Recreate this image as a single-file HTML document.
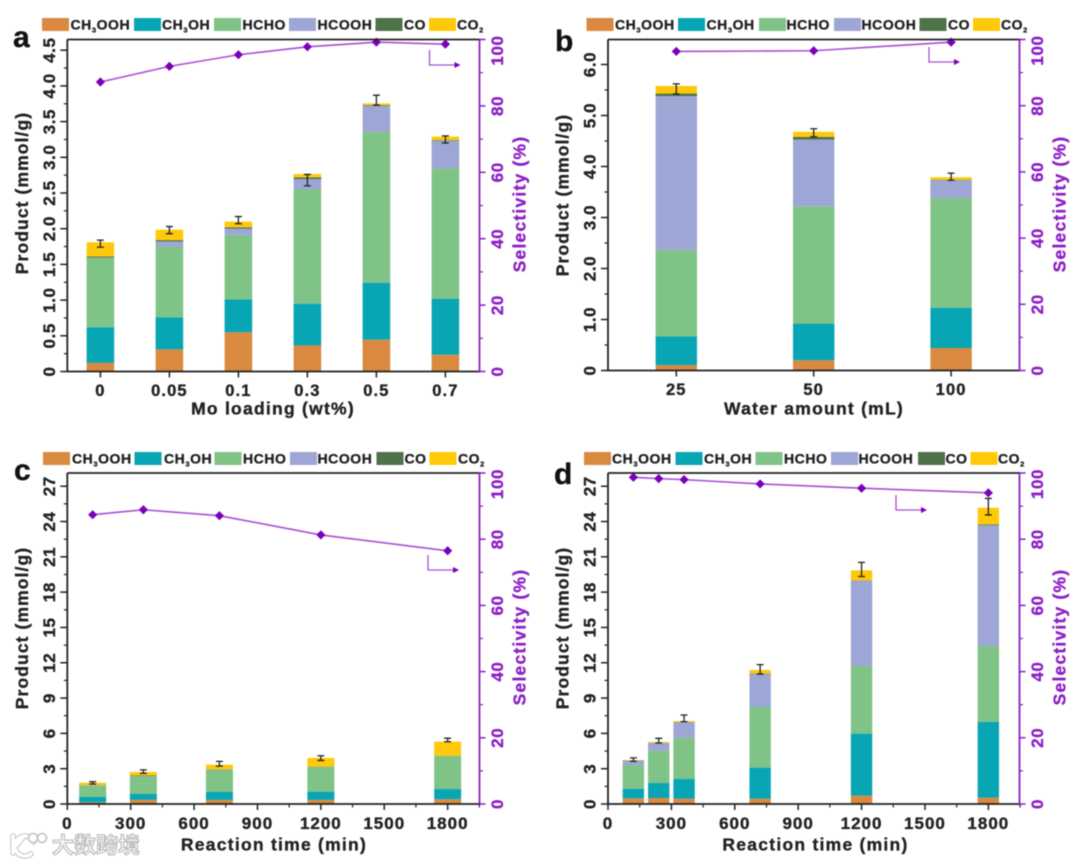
<!DOCTYPE html>
<html lang="en">
<head>
<meta charset="utf-8">
<title>Product yield and selectivity charts</title>
<style>
html,body{margin:0;padding:0;background:#fff;width:1080px;height:865px;overflow:hidden}
svg{display:block;filter:blur(0.55px)}
text{font-family:"Liberation Sans","Noto Sans CJK SC",sans-serif;font-weight:bold}
</style>
</head>
<body>
<svg id="figure" xmlns="http://www.w3.org/2000/svg" width="1080" height="865" viewBox="0 0 1080 865"></svg>
<script>
// ---------- shared labels ----------
const seriesNames = ['CH3OOH', 'CH3OH', 'HCHO', 'HCOOH', 'CO', 'CO2'];
const seriesColors = ['#D98A40', '#08A5B5', '#7FC386', '#9EA6D6', '#4E7348', '#FFC90A'];
const selTicks = [0, 20, 40, 60, 80, 100];

// ---------- panel a ----------
const aCategories = ['0', '0.05', '0.1', '0.3', '0.5', '0.7'];
const aCh3ooh = [0.12, 0.31, 0.55, 0.365, 0.445, 0.235];
const aCh3oh = [0.50, 0.45, 0.46, 0.585, 0.795, 0.785];
const aHcho = [0.97, 0.99, 0.90, 1.606, 2.12, 1.825];
const aHcooh = [0.005, 0.07, 0.09, 0.139, 0.36, 0.385];
const aCo = [0.015, 0.02, 0.02, 0.025, 0.01, 0.01];
const aCo2 = [0.20, 0.145, 0.08, 0.045, 0.025, 0.05];
const aErrMean = [1.79, 1.98, 2.12, 2.68, 3.80, 3.25];
const aErrDev = [0.05, 0.05, 0.05, 0.08, 0.07, 0.05];
const aSelectivity = [87.2, 91.9, 95.4, 97.8, 99.2, 98.6];
const aYTicks = ['0', '0.5', '1.0', '1.5', '2.0', '2.5', '3.0', '3.5', '4.0', '4.5'];

// ---------- panel b ----------
const bCategories = ['25', '50', '100'];
const bCh3ooh = [0.105, 0.20, 0.44];
const bCh3oh = [0.565, 0.72, 0.79];
const bHcho = [1.69, 2.30, 2.15];
const bHcooh = [3.02, 1.31, 0.35];
const bCo = [0.05, 0.05, 0.01];
const bCo2 = [0.15, 0.10, 0.05];
const bErrMean = [5.52, 4.66, 3.80];
const bErrDev = [0.10, 0.08, 0.07];
const bSelectivity = [96.4, 96.6, 99.2];
const bYTicks = ['0', '1.0', '2.0', '3.0', '4.0', '5.0', '6.0'];

// ---------- panel c ----------
const cTimes = [120, 360, 720, 1200, 1800];
const cCh3ooh = [0.15, 0.35, 0.35, 0.35, 0.40];
const cCh3oh = [0.47, 0.50, 0.67, 0.70, 0.87];
const cHcho = [0.94, 1.47, 1.87, 2.09, 2.81];
const cHcooh = [0.02, 0.04, 0.03, 0.02, 0.01];
const cCo = [0.02, 0.06, 0.03, 0.02, 0.01];
const cCo2 = [0.21, 0.30, 0.39, 0.73, 1.20];
const cErrMean = [1.80, 2.75, 3.42, 3.90, 5.44];
const cErrDev = [0.10, 0.15, 0.20, 0.20, 0.15];
const cSelectivity = [87.4, 88.9, 87.1, 81.3, 76.5];

// ---------- panel d ----------
const dTimes = [120, 240, 360, 720, 1200, 1800];
const dCh3ooh = [0.48, 0.51, 0.45, 0.45, 0.71, 0.54];
const dCh3oh = [0.82, 1.27, 1.67, 2.64, 5.27, 6.43];
const dHcho = [2.01, 2.75, 3.52, 5.15, 5.75, 6.46];
const dHcooh = [0.37, 0.65, 1.30, 2.81, 7.24, 10.25];
const dCo = [0.02, 0.02, 0.02, 0.03, 0.03, 0.07];
const dCo2 = [0.04, 0.07, 0.09, 0.31, 0.85, 1.42];
const dErrMean = [3.77, 5.38, 7.28, 11.44, 19.93, 25.26];
const dErrDev = [0.15, 0.20, 0.28, 0.40, 0.60, 0.70];
const dSelectivity = [98.7, 98.3, 98.0, 96.7, 95.4, 94.0];

const timeYTicks = ['0', '3', '6', '9', '12', '15', '18', '21', '24', '27'];
const timeXTicks = ['0', '300', '600', '900', '1200', '1500', '1800'];

const SVGNS = 'http://www.w3.org/2000/svg';
const AXIS = '#222';
const PURPLE = '#8C1FC4';
const PURPLE_LINE = '#A94FD3';
const MARKER = '#7C00B8';

function mk(parent, tag, attrs) {
  const el = document.createElementNS(SVGNS, tag);
  for (const k in attrs) el.setAttribute(k, attrs[k]);
  parent.appendChild(el);
  return el;
}

function rotatedText(parent, x, y, str, attrs) {
  return mk(parent, 'text', Object.assign({ transform: 'rotate(-90 ' + x + ' ' + y + ')', x: x, y: y, 'text-anchor': 'middle' }, attrs));
}

function drawLegendLabel(parent, x, y, name) {
  const t = mk(parent, 'text', { x: x, y: y, 'font-size': 14, 'letter-spacing': 0.55, fill: '#222' });
  const m = name.match(/^(.*)3(.*)$/);
  if (name === 'CO2') {
    t.appendChild(document.createTextNode('CO'));
    const s = mk(t, 'tspan', { 'font-size': 7.5, dy: 3 });
    s.textContent = '2';
  } else if (m) {
    t.appendChild(document.createTextNode(m[1]));
    const s = mk(t, 'tspan', { 'font-size': 7.5, dy: 3 });
    s.textContent = '3';
    const r = mk(t, 'tspan', { dy: -3 });
    r.textContent = m[2];
  } else {
    t.textContent = name;
  }
  return t;
}

function drawPanel(p) {
  const root = document.getElementById('figure');
  const g = mk(root, 'g', {});
  
  

  // axis functions
  const yScale = v => p.bottom - v * p.yUnit;
  const selScale = v => p.bottom - v * (p.bottom - p.top) / 100;
  const xScale = p.time
    ? v => p.left + v * p.xUnit
    : i => p.firstCenter + i * p.step;
  const xKeys = p.time ? p.xValues : p.xValues.map((_, i) => i);

  // legend
  seriesNames.forEach((name, i) => {
    const sw = mk(g, 'rect', { x: p.legendSwatch[i], y: p.legendY, width: 27, height: 13, fill: seriesColors[i] });
    
    
    const lb = drawLegendLabel(g, p.legendText[i], p.legendY + 11.5, name);
    
    
  });

  // stacked bars
  xKeys.forEach((key, i) => {
    let acc = 0;
    p.stacks.forEach((series, s) => {
      const y0 = yScale(acc);
      acc += series[i];
      const y1 = yScale(acc);
      const bar = mk(g, 'rect', { x: xScale(key) - p.barWidth / 2, y: y1, width: p.barWidth, height: Math.max(0, y0 - y1), fill: seriesColors[s] });
      
      
    });
  });

  // error bars
  xKeys.forEach((key, i) => {
    const cx = xScale(key);
    const yHi = yScale(p.errMean[i] + p.errDev[i]);
    const yLo = yScale(p.errMean[i] - p.errDev[i]);
    const d = 'M' + (cx - 3.5) + ' ' + yHi + 'H' + (cx + 3.5) + 'M' + cx + ' ' + yHi + 'V' + yLo + 'M' + (cx - 3.5) + ' ' + yLo + 'H' + (cx + 3.5);
    const eb = mk(g, 'path', { d: d, fill: 'none', stroke: '#222', 'stroke-width': 1.3 });
    
    
  });

  // selectivity line
  const pts = xKeys.map((key, i) => xScale(key) + ',' + selScale(p.selectivity[i])).join(' ');
  const line = mk(g, 'polyline', { points: pts, fill: 'none', stroke: PURPLE_LINE, 'stroke-width': 1.6 });
  
  
  xKeys.forEach((key, i) => {
    const cx = xScale(key), cy = selScale(p.selectivity[i]), r = 4.6;
    const pt = mk(g, 'polygon', { points: cx + ',' + (cy - r) + ' ' + (cx + r) + ',' + cy + ' ' + cx + ',' + (cy + r) + ' ' + (cx - r) + ',' + cy, fill: MARKER });
    
    
  });

  // axis frame
  const frame = mk(g, 'path', { d: 'M' + p.left + ' ' + p.top + 'H' + p.right + 'M' + p.left + ' ' + p.top + 'V' + p.bottom + 'H' + p.right, fill: 'none', stroke: AXIS, 'stroke-width': 1.8 });
  
  
  const rAxis = mk(g, 'line', { x1: p.right, y1: p.top - 1, x2: p.right, y2: p.bottom + 1, stroke: PURPLE, 'stroke-width': 1.8 });
  
  

  // left axis ticks and labels
  p.yTicks.forEach((label, i) => {
    const v = Number(label);
    const y = yScale(v);
    const tk = mk(g, 'line', { x1: p.left - 7, y1: y, x2: p.left, y2: y, stroke: AXIS, 'stroke-width': 1.5 });
    
    
    const t = rotatedText(g, p.left - 12.5, y, label, { 'font-size': 17, 'letter-spacing': 0.6, fill: '#222' });
    t.textContent = label;
    
    
    const mv = v + p.yMinor;
    if (yScale(mv) > p.top) {
      const mt = mk(g, 'line', { x1: p.left - 3.5, y1: yScale(mv), x2: p.left, y2: yScale(mv), stroke: AXIS, 'stroke-width': 1.2 });
      
      
    }
  });

  // right axis ticks and labels
  selTicks.forEach(v => {
    const y = selScale(v);
    const tk = mk(g, 'line', { x1: p.right, y1: y, x2: p.right + 6, y2: y, stroke: PURPLE, 'stroke-width': 1.5 });
    
    
    const ly = v === 100 ? y + 11 : y;
    const t = rotatedText(g, p.right + 23.5, ly, String(v), { 'font-size': 17, 'letter-spacing': 0.6, fill: PURPLE });
    t.textContent = String(v);
    
    
    if (v < 100) {
      const my = selScale(v + 10);
      const mt = mk(g, 'line', { x1: p.right, y1: my, x2: p.right + 3.5, y2: my, stroke: PURPLE, 'stroke-width': 1.2 });
      
      
    }
  });

  // x axis ticks and labels
  if (p.time) {
    timeXTicks.forEach(label => {
      const v = Number(label), x = xScale(v);
      const tk = mk(g, 'line', { x1: x, y1: p.bottom, x2: x, y2: p.bottom + 6, stroke: AXIS, 'stroke-width': 1.5 });
      
      
      const t = mk(g, 'text', { x: x, y: p.bottom + 25, 'text-anchor': 'middle', 'font-size': 17, 'letter-spacing': 1, fill: '#222' });
      t.textContent = label;
      
      
      const mt = mk(g, 'line', { x1: xScale(v + 150), y1: p.bottom, x2: xScale(v + 150), y2: p.bottom + 3.5, stroke: AXIS, 'stroke-width': 1.2 });
      
      
    });
  } else {
    p.xValues.forEach((label, i) => {
      const x = xScale(i);
      const tk = mk(g, 'line', { x1: x, y1: p.bottom, x2: x, y2: p.bottom + 6, stroke: AXIS, 'stroke-width': 1.5 });
      
      
      const t = mk(g, 'text', { x: x, y: p.bottom + 24.5, 'text-anchor': 'middle', 'font-size': 16.5, 'letter-spacing': 1.1, fill: '#222' });
      t.textContent = label;
      
      
    });
  }

  // titles
  const xt = mk(g, 'text', { x: p.xTitleX, y: p.xTitleY, 'text-anchor': 'middle', 'font-size': 17.5, 'letter-spacing': 1.25, fill: '#222' });
  xt.textContent = p.xTitle;
  
  
  const yt = rotatedText(g, p.left - 39.5, p.yTitleY, '', { 'font-size': 17.5, 'letter-spacing': 1.1, fill: '#222' });
  yt.textContent = 'Product (mmol/g)';
  
  
  const st = rotatedText(g, p.right + 46, p.yTitleSel, '', { 'font-size': 17.5, 'letter-spacing': 1.2, fill: PURPLE });
  st.textContent = 'Selectivity (%)';
  
  

  // panel letter
  const letter = mk(g, 'text', { x: p.letterX, y: p.letterY, 'font-size': 30, fill: '#111' });
  letter.textContent = p.id;
  
  

  // arrow annotation
  const ar = mk(g, 'path', { d: 'M' + p.arrowX + ' ' + p.arrowY + 'v15h26', fill: 'none', stroke: PURPLE_LINE, 'stroke-width': 1.3 });
  
  
  const head = mk(g, 'polygon', { points: (p.arrowX + 31) + ',' + (p.arrowY + 15) + ' ' + (p.arrowX + 25) + ',' + (p.arrowY + 12) + ' ' + (p.arrowX + 25) + ',' + (p.arrowY + 18), fill: MARKER });
  
  
}

drawPanel({
  id: 'a', time: false, left: 67.3, right: 479.5, top: 39.5, bottom: 371.5, yUnit: 71.4, yMinor: 0.25,
  firstCenter: 100.4, step: 69, barWidth: 27.6, xValues: aCategories, yTicks: aYTicks,
  stacks: [aCh3ooh, aCh3oh, aHcho, aHcooh, aCo, aCo2], errMean: aErrMean, errDev: aErrDev, selectivity: aSelectivity,
  legendSwatch: [42, 134, 214, 289, 375.5, 429], legendText: [70.5, 162, 242.5, 317.5, 404, 457], legendY: 18,
  xTitle: 'Mo loading (wt%)', xTitleX: 273, xTitleY: 414.5, yTitleY: 193, yTitleSel: 204,
  letterX: 13, letterY: 47, arrowX: 429.5, arrowY: 50
});
drawPanel({
  id: 'b', time: false, left: 608, right: 1019.5, top: 39.5, bottom: 370.5, yUnit: 51, yMinor: 0.5,
  firstCenter: 676.3, step: 137.4, barWidth: 41.4, xValues: bCategories, yTicks: bYTicks,
  stacks: [bCh3ooh, bCh3oh, bHcho, bHcooh, bCo, bCo2], errMean: bErrMean, errDev: bErrDev, selectivity: bSelectivity,
  legendSwatch: [586.5, 678, 759, 834, 919.5, 973], legendText: [615, 706.5, 786.5, 861.5, 948, 1001], legendY: 18,
  xTitle: 'Water amount (mL)', xTitleX: 814, xTitleY: 414.5, yTitleY: 195, yTitleSel: 204,
  letterX: 555, letterY: 51, arrowX: 929, arrowY: 47
});
drawPanel({
  id: 'c', time: true, left: 67.3, right: 479.5, top: 473, bottom: 804, yUnit: 11.77, yMinor: 1.5, xUnit: 0.2113,
  barWidth: 27, xValues: cTimes, yTicks: timeYTicks,
  stacks: [cCh3ooh, cCh3oh, cHcho, cHcooh, cCo, cCo2], errMean: cErrMean, errDev: cErrDev, selectivity: cSelectivity,
  legendSwatch: [43, 134.5, 214.5, 290, 376.5, 429.5], legendText: [72, 164, 243, 317.5, 404.5, 458], legendY: 452,
  xTitle: 'Reaction time (min)', xTitleX: 274, xTitleY: 850.5, yTitleY: 628, yTitleSel: 637,
  letterX: 14, letterY: 480, arrowX: 428, arrowY: 555
});
drawPanel({
  id: 'd', time: true, left: 608, right: 1019.5, top: 473, bottom: 804, yUnit: 11.77, yMinor: 1.5, xUnit: 0.2113,
  barWidth: 21.4, xValues: dTimes, yTicks: timeYTicks,
  stacks: [dCh3ooh, dCh3oh, dHcho, dHcooh, dCo, dCo2], errMean: dErrMean, errDev: dErrDev, selectivity: dSelectivity,
  legendSwatch: [584, 675.5, 755.5, 831, 918, 970.5], legendText: [612, 704, 784, 858.5, 945.5, 998], legendY: 452,
  xTitle: 'Reaction time (min)', xTitleX: 815.5, xTitleY: 850.5, yTitleY: 628, yTitleSel: 637,
  letterX: 554, letterY: 484, arrowX: 896, arrowY: 495
});

// thicken chart text slightly so it keeps the reference's heavy weight under the blur
document.querySelectorAll('#figure text').forEach(t => {
  t.setAttribute('stroke', t.getAttribute('fill'));
  t.setAttribute('stroke-width', '0.35');
});

// watermark
const svgRoot = document.getElementById('figure');
const wm = mk(svgRoot, 'g', {});


const logoShape = 'M13 836v17M17 845l7-9M34 842a10 10 0 1 0 -3 12';
const logoOut = mk(wm, 'path', { d: logoShape, fill: 'none', stroke: '#c2c2c2', 'stroke-width': 5.5, 'stroke-linecap': 'round' });


const logoIn = mk(wm, 'path', { d: logoShape, fill: 'none', stroke: '#fff', 'stroke-width': 3.5, 'stroke-linecap': 'round' });


[33, 42].forEach(cx => {
  const ring = mk(wm, 'circle', { cx: cx, cy: 838, r: 4.5, fill: '#fff', stroke: '#c2c2c2', 'stroke-width': 1.6 });
  
  
});
const wmText = mk(wm, 'text', { x: 52, y: 853, 'font-size': 22, fill: '#f6f6f6', stroke: '#b6b6b6', 'stroke-width': 1 });
wmText.textContent = '大数跨境';


</script>
</body>
</html>
